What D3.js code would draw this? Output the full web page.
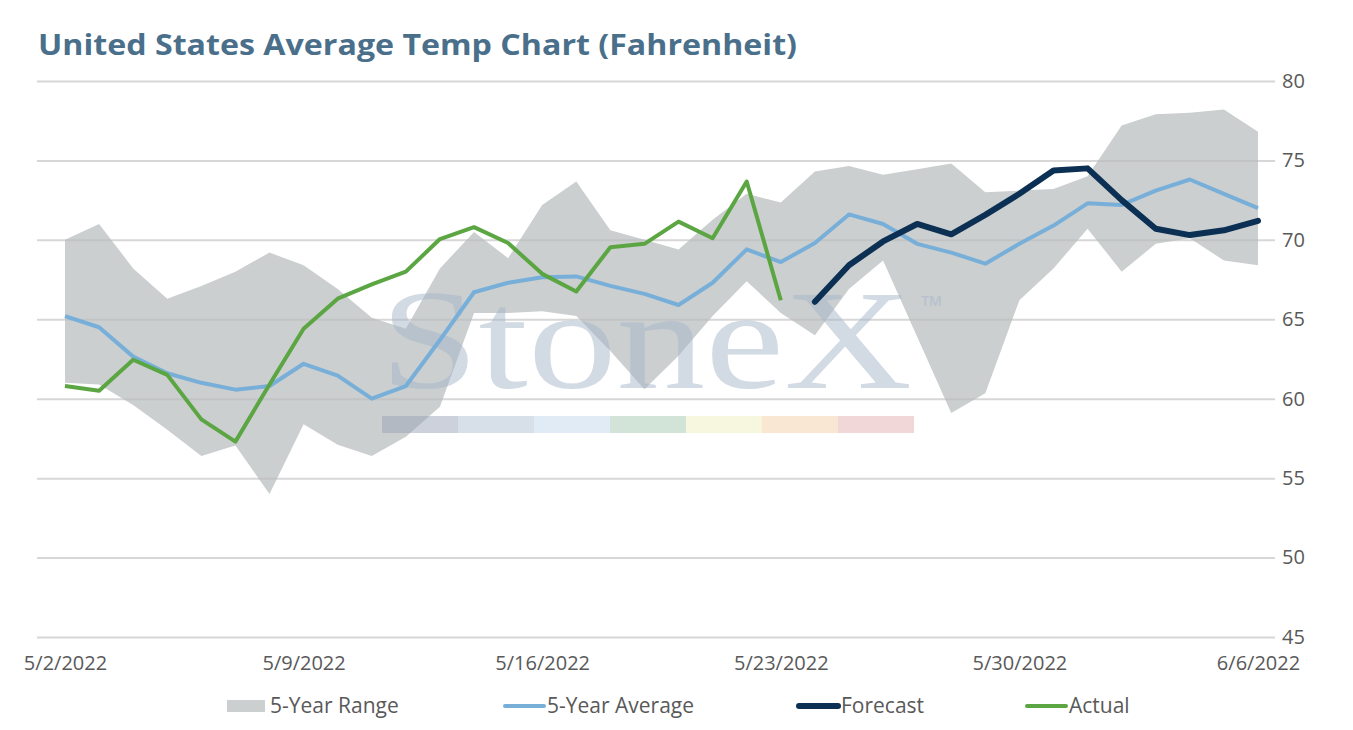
<!DOCTYPE html>
<html lang="en">
<head>
    <meta charset="UTF-8">
    <title>United States Average Temp Chart</title>
    <style>
        body { margin: 0; overflow: hidden; background: #fff; }
    </style>
</head>
<body>
    <script src="https://d3js.org/d3.v7.min.js"></script>
    <script>
        // daily values, 5/2/2022 .. 6/6/2022
        const startDate = new Date(2022, 4, 2);
        const endDate = new Date(2022, 5, 6);
        const tickDates = ['5/2/2022', '5/9/2022', '5/16/2022', '5/23/2022', '5/30/2022', '6/6/2022'];
        const yTicks = [45, 50, 55, 60, 65, 70, 75, 80];

        const rangeLow = [61.0, 60.9, 59.6, 58.05, 56.4, 57.06, 54.0, 58.4, 57.1, 56.4, 57.6, 59.5,
            65.4, 65.4, 65.5, 65.2, 63.0, 60.6, 62.7, 65.2, 67.4, 65.4, 64.0, 66.9, 68.7, 63.9,
            59.1, 60.35, 66.2, 68.2, 70.7, 68.0, 69.75, 70.1, 68.7, 68.4];
        const rangeHigh = [70.0, 71.0, 68.2, 66.3, 67.1, 68.0, 69.2, 68.4, 66.9, 65.1, 64.4, 68.2,
            70.5, 68.85, 72.2, 73.67, 70.6, 70.0, 69.4, 71.26, 72.9, 72.35, 74.3, 74.65, 74.1, 74.45,
            74.8, 73.0, 73.1, 73.2, 74.0, 77.2, 77.9, 78.0, 78.2, 76.8];
        const avg5 = [65.2, 64.5, 62.65, 61.6, 61.0, 60.57, 60.8, 62.2, 61.45, 60.0, 60.8, 63.7,
            66.7, 67.3, 67.65, 67.7, 67.1, 66.6, 65.9, 67.3, 69.4, 68.6, 69.8, 71.6, 71.0, 69.75,
            69.2, 68.5, 69.75, 70.9, 72.3, 72.2, 73.1, 73.8, 72.9, 72.0];
        const actual = [60.8, 60.5, 62.45, 61.5, 58.7, 57.3, 60.9, 64.4, 66.3, 67.2, 68.0, 70.05,
            70.8, 69.8, 67.86, 66.75, 69.54, 69.75, 71.15, 70.1, 73.67, 66.2];
        const forecast = [66.1, 68.4, 69.9, 71.0, 70.35, 71.57, 72.9, 74.36, 74.5, 72.5, 70.7,
            70.3, 70.6, 71.2];
        const forecastStart = 22; // day index of first forecast point

        const width = 1353, height = 730;
        const font = '"Open Sans", Lato, sans-serif';
        const svg = d3.select('body').append('svg')
            .attr('width', width)
            .attr('height', height);

        const days = d3.timeDay.range(startDate, d3.timeDay.offset(endDate, 1));

        const x = d3.scaleTime().domain([startDate, endDate]).range([65, 1258]);
        const y = d3.scaleLinear().domain([45, 80]).range([637, 81]);

        // title
        svg.append('text')
            .attr('x', 38).attr('y', 55)
            .attr('textLength', 759).attr('lengthAdjust', 'spacingAndGlyphs')
            .style('font-family', font)
            .style('font-size', '28px').style('font-weight', 700)
            .attr('fill', '#4a6f8b')
            .text('United States Average Temp Chart (Fahrenheit)');

        // 5-year range band
        const band = days.map((d, i) => ({ date: d, lo: rangeLow[i], hi: rangeHigh[i] }));
        svg.append('path')
            .datum(band)
            .attr('fill', '#cbcfd0')
            .attr('d', d3.area().x(d => x(d.date)).y0(d => y(d.lo)).y1(d => y(d.hi)));

        // gridlines + right axis
        const yAxis = svg.append('g')
            .attr('transform', 'translate(1275,0)')
            .call(d3.axisRight(y).tickValues(yTicks).tickSize(-1238).tickPadding(7));
        yAxis.select('.domain').remove();
        yAxis.selectAll('line').attr('stroke', '#bcbcbc').attr('stroke-opacity', 0.6).attr('stroke-width', 2);
        yAxis.selectAll('text').style('font-size', '20px').style('font-family', font).attr('fill', '#595959');

        // watermark
        const wm = svg.append('g').attr('opacity', 0.5);
        wm.append('text')
            .attr('x', 380).attr('y', 388)
            .attr('textLength', 532).attr('lengthAdjust', 'spacingAndGlyphs')
            .style('font-family', '"Liberation Serif", "DejaVu Serif", serif')
            .style('font-size', '142px')
            .attr('fill', '#a6b6cb')
            .text('StoneX');
        wm.append('text')
            .attr('x', 921).attr('y', 316)
            .style('font-family', font)
            .style('font-size', '28px').attr('fill', '#a6b6cb')
            .text('™');
        const stripColors = ['#9aa4b8', '#b0c0d4', '#c4d8ec', '#a6c8b2', '#f0f0c0', '#f4d0a8', '#e6b0b4'];
        wm.selectAll('rect.strip')
            .data(stripColors)
            .enter().append('rect')
            .attr('class', 'strip')
            .attr('x', (d, i) => 382 + i * 76)
            .attr('y', 416)
            .attr('width', 76)
            .attr('height', 17)
            .attr('fill', d => d);

        // x axis labels
        const xAxis = svg.append('g')
            .attr('transform', 'translate(0,637)')
            .call(d3.axisBottom(x)
                .tickValues(tickDates.map(s => d3.timeParse('%m/%d/%Y')(s)))
                .tickFormat(d3.timeFormat('%-m/%-d/%Y'))
                .tickSize(0).tickPadding(19));
        xAxis.select('.domain').remove();
        xAxis.selectAll('text').style('font-size', '20px').style('font-family', font).attr('fill', '#595959');

        // lines
        const line = d3.line()
            .defined(d => d.v != null)
            .x(d => x(d.date))
            .y(d => y(d.v));

        svg.append('path')
            .datum(days.map((d, i) => ({ date: d, v: avg5[i] })))
            .attr('fill', 'none')
            .attr('stroke', '#78afd9')
            .attr('stroke-width', 4)
            .attr('stroke-linejoin', 'round')
            .attr('d', line);

        svg.append('path')
            .datum(actual.map((v, i) => ({ date: days[i], v: v })))
            .attr('fill', 'none')
            .attr('stroke', '#5ba643')
            .attr('stroke-width', 4)
            .attr('stroke-linejoin', 'round')
            .attr('d', line);

        svg.append('path')
            .datum(forecast.map((v, i) => ({ date: days[forecastStart + i], v: v })))
            .attr('fill', 'none')
            .attr('stroke', '#0c3054')
            .attr('stroke-width', 6)
            .attr('stroke-linejoin', 'round')
            .attr('stroke-linecap', 'round')
            .attr('d', line);

        // legend
        const legend = [
            { name: '5-Year Range', type: 'rect', color: '#cbcfd0', x: 227 },
            { name: '5-Year Average', type: 'line', color: '#78afd9', x: 503, w: 4 },
            { name: 'Forecast', type: 'line', color: '#0c3054', x: 797, w: 6 },
            { name: 'Actual', type: 'line', color: '#5ba643', x: 1025, w: 4 }
        ];
        const lg = svg.append('g').selectAll('g')
            .data(legend)
            .enter().append('g')
            .attr('transform', d => `translate(${d.x},706)`);
        lg.filter(d => d.type === 'rect').append('rect')
            .attr('x', 0).attr('y', -6).attr('width', 38).attr('height', 12)
            .attr('fill', d => d.color);
        lg.filter(d => d.type === 'line').append('line')
            .attr('x1', 2).attr('x2', 41).attr('y1', 0).attr('y2', 0)
            .attr('stroke', d => d.color)
            .attr('stroke-width', d => d.w)
            .attr('stroke-linecap', 'round');
        lg.append('text')
            .attr('x', d => d.type === 'rect' ? 43 : 44)
            .attr('y', 7)
            .style('font-size', '21px').style('font-family', font)
            .attr('fill', '#595959')
            .text(d => d.name);
    </script>
</body>
</html>
